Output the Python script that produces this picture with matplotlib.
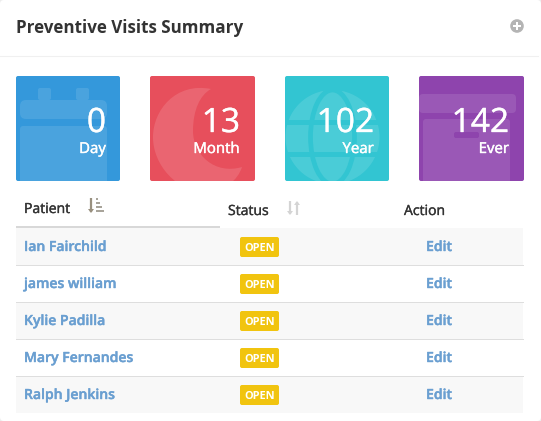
import matplotlib
matplotlib.use("Agg")
import matplotlib.pyplot as plt
import matplotlib.patheffects as pe
from matplotlib.patches import FancyBboxPatch, Rectangle, Circle, Ellipse, PathPatch
from matplotlib.path import Path

plt.rcParams['font.family'] = ['Open Sans', 'DejaVu Sans']

card_values = [0, 13, 102, 142]
card_labels = ["Day", "Month", "Year", "Ever"]
card_colors = ["#3498db", "#e74f5c", "#32c5d2", "#8e44ad"]
patients = ["Ian Fairchild", "james william", "Kylie Padilla", "Mary Fernandes", "Ralph Jenkins"]
statuses = ["OPEN"] * 5
actions = ["Edit"] * 5
title = "Preventive Visits Summary"
headers = ["Patient", "Status", "Action"]

W, H = 541, 421
fig = plt.figure(figsize=(W / 100, H / 100), dpi=100, facecolor="#ececec")
ax = fig.add_axes([0, 0, 1, 1])
ax.set_xlim(0, W); ax.set_ylim(H, 0); ax.axis("off")

def px(v):
    return v * 0.72

def rrect(x, y, w, h, r, color, z=1, alpha=1.0, **kw):
    p = FancyBboxPatch((x + r, y + r), w - 2 * r, h - 2 * r, boxstyle=f"round,pad={r}",
                       fc=color, ec="none", zorder=z, alpha=alpha, **kw)
    ax.add_patch(p)
    return p

def heavy(color, width=0.3):
    return [pe.withStroke(linewidth=width, foreground=color)]

# panel
rrect(0, 0, 541, 421, 4, "white", z=0)
ax.plot([0, 538], [55.5, 55.5], color="#f0f0f0", lw=0.8, zorder=1)
ax.text(16, 33, title, fontsize=px(17), fontweight="bold", color="#333333", va="baseline", ha="left")
ax.add_patch(Circle((517, 26), 6.8, fc="#b4b4b4", ec="none", zorder=2))
ax.add_patch(Rectangle((513, 25), 8, 2, fc="white", ec="none", zorder=3))
ax.add_patch(Rectangle((516, 22), 2, 8, fc="white", ec="none", zorder=3))

# cards
card_x = [16, 150, 285, 419]
cw, cy, ch = [104, 105, 104, 105], 76, 105
text_right = [106, 240, 374, 509]
for i in range(4):
    x = card_x[i]; w = cw[i]
    rrect(x, cy, w, ch, 2, card_colors[i], z=1)
    clip = Rectangle((x, cy), w, ch, transform=ax.transData)
    light = dict(z=2, alpha=0.11)
    shapes = []
    if i == 0:
        shapes.append(rrect(x + 22, 88, 13, 12, 2, "white", **light))
        shapes.append(rrect(x + 60, 88, 13, 12, 2, "white", **light))
        shapes.append(rrect(x + 4, 100, 87, 19, 6, "white", **light))
        shapes.append(rrect(x + 4, 126, 87, 70, 3, "white", **light))
    elif i == 1:
        verts = [(211, 89), (176, 82), (153, 110), (153, 137), (153, 166), (178, 192), (205, 192),
                 (224, 192), (238, 180), (242, 167), (215, 175), (193, 155), (193, 131), (193, 110), (200, 95), (211, 89)]
        codes = [Path.MOVETO] + [Path.CURVE4] * 15
        pp = PathPatch(Path(verts, codes), fc="white", ec="none", alpha=0.13, zorder=2)
        ax.add_patch(pp); shapes.append(pp)
    elif i == 2:
        c = Circle((x + 47.5, 137), 47, fc="white", ec="none", alpha=0.12, zorder=2)
        ax.add_patch(c); shapes.append(c)
        e = Ellipse((x + 47.5, 137), 44, 94, fc="none", ec=card_colors[2], lw=3.4, zorder=3)
        ax.add_patch(e); shapes.append(e)
        for yy in [120, 152]:
            r = Rectangle((x, yy), 104, 5, fc=card_colors[2], ec="none", zorder=3)
            ax.add_patch(r); shapes.append(r)
    else:
        shapes.append(rrect(x, 94, 97, 19, 4, "white", **light))
        shapes.append(rrect(x + 4, 119, 87, 70, 3, "white", **light))
        shapes.append(rrect(x + 35, 132, 25, 6, 2, card_colors[3], z=3))
    for s in shapes:
        s.set_clip_path(clip)
    ax.text(text_right[i], 132, str(card_values[i]), color="white", fontsize=px(33.5), ha="right", va="baseline", zorder=5,
            path_effects=heavy("white", 0.25))
    ax.text(text_right[i], 153, card_labels[i], color="white", fontsize=px(15), fontweight="medium", ha="right", va="baseline", zorder=5,
            path_effects=heavy("white", 0.3))

# table rows
row_tops = [228, 265, 302, 339, 376]
row_h = 36.5
for i, name in enumerate(patients):
    y = row_tops[i]
    if i % 2 == 0:
        ax.add_patch(Rectangle((16, y), 507, row_h, fc="#f8f8f8", ec="none", zorder=1))
    if i > 0:
        ax.plot([16, 523], [y - 0.5, y - 0.5], color="#dedede", lw=0.72, zorder=2)
    base = y + 23
    ax.text(24, base, name, color="#6a9fd1", fontsize=px(14), fontweight="semibold", ha="left", va="baseline", zorder=3,
            path_effects=heavy("#6a9fd1", 0.3))
    rrect(240, y + 9, 39, 20, 2, "#f1c40f", z=3)
    ax.text(259.5, y + 23, statuses[i], color="white", fontsize=px(11), fontweight="bold", ha="center", va="baseline", zorder=4)
    ax.text(439, base, actions[i], color="#6a9fd1", fontsize=px(14), fontweight="semibold", ha="center", va="baseline", zorder=3,
            path_effects=heavy("#6a9fd1", 0.3))

# header
ax.add_patch(Rectangle((16, 226), 204, 2, fc="#d8d8d8", ec="none", zorder=2))
ax.text(24, 213, headers[0], color="#333333", fontsize=px(14), fontweight="medium", ha="left", va="baseline", path_effects=heavy("#333333", 0.25))
ax.text(228, 215, headers[1], color="#333333", fontsize=px(14), fontweight="medium", ha="left", va="baseline", path_effects=heavy("#333333", 0.25))
ax.text(404, 215, headers[2], color="#333333", fontsize=px(14), fontweight="medium", ha="left", va="baseline", path_effects=heavy("#333333", 0.25))

def arrow(x, y0, y1, color):
    ax.plot([x, x], [y0, y1], color=color, lw=1.6, zorder=3, solid_capstyle="butt")
    d = 3 if y1 > y0 else -3
    ax.add_patch(plt.Polygon([(x - 3, y1 - d), (x + 3, y1 - d), (x, y1 + d / 3)], fc=color, ec="none", zorder=3))

arrow(91, 198, 212, "#99907f")
for wd, yy in [(2.5, 198), (4, 202), (6, 206), (8, 210)]:
    ax.add_patch(Rectangle((95.5, yy), wd, 2.3, fc="#a8a49a", ec="none", zorder=3))
arrow(290, 201, 214, "#d4d4d4")
arrow(297, 215, 202, "#d4d4d4")

fig.savefig("out.png", dpi=100, facecolor=fig.get_facecolor())
